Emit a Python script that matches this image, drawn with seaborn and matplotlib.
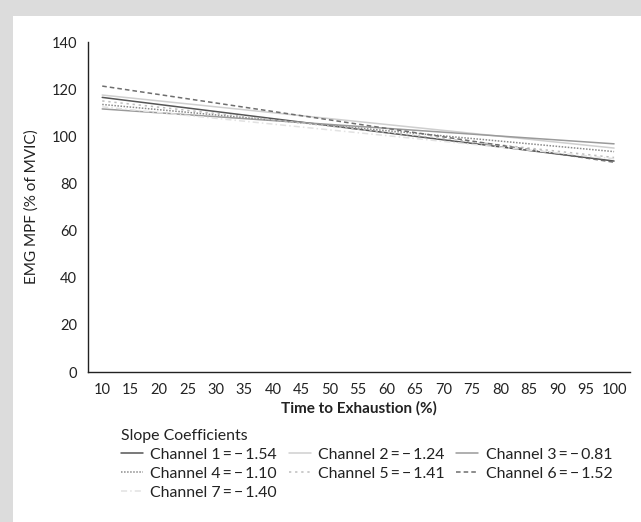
import matplotlib
matplotlib.use("Agg")
import matplotlib.pyplot as plt
import seaborn as sns
import pandas as pd
from matplotlib.patches import Rectangle

# ---- data (trend line values at 10% and 100% time) ----
channels = ["Channel 1", "Channel 2", "Channel 3", "Channel 4",
            "Channel 5", "Channel 6", "Channel 7"]
slope_labels = ["-1.54", "-1.24", "-0.81", "-1.10", "-1.41", "-1.52", "-1.40"]
time_points = [10, 100]
start_values = [116.5, 117.5, 111.6, 113.5, 115.0, 121.3, 112.5]
end_values = [89.5, 95.0, 96.8, 93.5, 91.0, 89.0, 90.5]
x_ticks = list(range(10, 101, 5))
y_ticks = [0, 20, 40, 60, 80, 100, 120, 140]

colors = ["#555555", "#cfcfcf", "#9a9a9a", "#8a8a8a", "#bdbdbd", "#6e6e6e", "#e2e2e2"]
styles = ["-", "-", "-", (0, (1, 1)), (0, (1.5, 2.5)), (0, (3, 2)), (0, (4, 2, 1, 2))]

sns.set_theme(style="white")
plt.rcParams["font.family"] = ["Lato", "DejaVu Sans"]

W, H = 641, 522
fig = plt.figure(figsize=(W / 100, H / 100), dpi=100)
fig.patch.set_facecolor("#dcdcdc")
fig.patches.append(Rectangle((13 / W, 0), 1 - 13 / W, 1 - 16 / H,
                             transform=fig.transFigure, facecolor="white",
                             edgecolor="none", zorder=-5))

ax_l, ax_r, ax_t, ax_b = 88, 630, 42, 372
ax = fig.add_axes([ax_l / W, 1 - ax_b / H, (ax_r - ax_l) / W, (ax_b - ax_t) / H])
ax.set_facecolor("white")

rows = []
for ch, s, e in zip(channels, start_values, end_values):
    rows.append({"time": time_points[0], "value": s, "channel": ch})
    rows.append({"time": time_points[1], "value": e, "channel": ch})
df = pd.DataFrame(rows)

handles = []
for i, ch in enumerate(channels):
    sub = df[df["channel"] == ch]
    sns.lineplot(data=sub, x="time", y="value", ax=ax, color=colors[i],
                 linestyle=styles[i], linewidth=1.1)
    handles.append(ax.get_lines()[-1])

ax.set_xlim(7.5, 102.8)
ax.set_ylim(0, 140)
ax.set_xticks(x_ticks)
ax.set_xticklabels([str(t) for t in x_ticks])
ax.set_yticks(y_ticks)
ax.tick_params(axis="x", length=0, labelsize=10.5, colors="#222222", pad=8)
ax.tick_params(axis="y", length=0, labelsize=10.5, colors="#222222", pad=8)
for sp in ["top", "right"]:
    ax.spines[sp].set_visible(False)
for sp in ["left", "bottom"]:
    ax.spines[sp].set_color("#222222")
    ax.spines[sp].set_linewidth(1.0)
ax.set_xlabel("Time to Exhaustion (%)", fontsize=11, fontweight="bold",
              color="#222222", labelpad=3)
ax.set_ylabel("EMG MPF (% of MVIC)", fontsize=11, color="#222222", labelpad=9)

labels = [f"{ch}\u2009=\u2009\u2212\u2009{sl[1:]}" for ch, sl in zip(channels, slope_labels)]
order = [0, 3, 6, 1, 4, 2, 5]

# fit legend text to the reference's width (label ~126 px, column pitch ~167 px)
renderer = fig.canvas.get_renderer()
probe = fig.text(0, 0, labels[0], fontsize=10)
w10 = probe.get_window_extent(renderer).width
probe.remove()
fs = 10 * 126 / w10
fs = min(max(fs, 9), 12)
fs_px = fs * 100 / 72
text_w = w10 * fs / 10
hl, htp = 1.4, 0.45
cs = max((167 - (hl + htp) * fs_px - text_w) / fs_px, 0.3)

leg = fig.legend([handles[i] for i in order], [labels[i] for i in order],
                 loc="upper left", bbox_to_anchor=(121 / W, 1 - 429 / H),
                 ncol=3, frameon=False, fontsize=fs, title="Slope Coefficients",
                 title_fontsize=fs, alignment="left", handlelength=hl,
                 handletextpad=htp, columnspacing=cs, labelspacing=0.3,
                 borderaxespad=0, borderpad=0)
for t in leg.get_texts():
    t.set_color("#222222")
leg.get_title().set_color("#222222")

fig.savefig("out.png", dpi=100, facecolor=fig.get_facecolor())
